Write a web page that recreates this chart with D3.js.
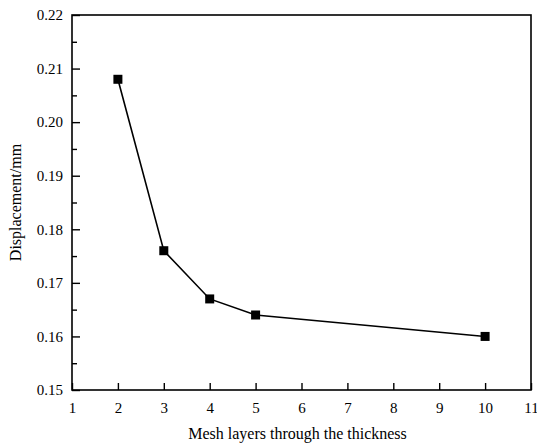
<!DOCTYPE html>
<html>
<head>
<meta charset="utf-8">
<script src="https://cdn.jsdelivr.net/npm/d3@7"></script>
<style>
  html, body { margin: 0; padding: 0; background: #fff; }
  svg { display: block; }
  text { font-family: "Liberation Serif", "Times New Roman", serif; fill: #000; }
</style>
</head>
<body>
<script>
// Mesh convergence study: displacement vs. number of mesh layers
const meshLayers = [2, 3, 4, 5, 10];
const displacement = [0.208, 0.176, 0.167, 0.164, 0.160];
const xTicks = [1, 2, 3, 4, 5, 6, 7, 8, 9, 10, 11];
const yTicks = [0.15, 0.16, 0.17, 0.18, 0.19, 0.20, 0.21, 0.22];
const yMinorTicks = [0.155, 0.165, 0.175, 0.185, 0.195, 0.205, 0.215];
const xTitle = "Mesh layers through the thickness";
const yTitle = "Displacement/mm";

const W = 537, H = 444;
const margin = { left: 72, right: 6, top: 15, bottom: 54 };

const svg = d3.select("body").append("svg").attr("width", W).attr("height", H);

const x = d3.scaleLinear().domain([1, 11]).range([margin.left, W - margin.right]);
const y = d3.scaleLinear().domain([0.15, 0.22]).range([H - margin.bottom, margin.top]);

// frame
svg.append("rect")
  .attr("x", x(1)).attr("y", y(0.22))
  .attr("width", x(11) - x(1)).attr("height", y(0.15) - y(0.22))
  .attr("fill", "none").attr("stroke", "#000").attr("stroke-width", 1.6);

// bottom axis, ticks pointing inward
const xAxis = svg.append("g")
  .attr("transform", `translate(0,${y(0.15)})`)
  .call(d3.axisBottom(x).tickValues(xTicks).tickFormat(d3.format("d"))
    .tickSizeInner(-7).tickSizeOuter(0).tickPadding(12));
xAxis.select(".domain").remove();
xAxis.selectAll("line").attr("stroke", "#000").attr("stroke-width", 1.4);
xAxis.selectAll("text").attr("font-size", 15).attr("font-family", "Liberation Serif");

// left axis, major and minor ticks pointing inward
const yAxis = svg.append("g")
  .attr("transform", `translate(${x(1)},0)`)
  .call(d3.axisLeft(y).tickValues(yTicks).tickFormat(d3.format(".2f"))
    .tickSizeInner(-8).tickSizeOuter(0).tickPadding(9));
yAxis.select(".domain").remove();
yAxis.selectAll("line").attr("stroke", "#000").attr("stroke-width", 1.4);
yAxis.selectAll("text").attr("font-size", 15).attr("font-family", "Liberation Serif");

const yMinor = svg.append("g")
  .attr("transform", `translate(${x(1)},0)`)
  .call(d3.axisLeft(y).tickValues(yMinorTicks).tickFormat("").tickSizeInner(-5).tickSizeOuter(0));
yMinor.select(".domain").remove();
yMinor.selectAll("line").attr("stroke", "#000").attr("stroke-width", 1.4);

// axis titles
svg.append("text")
  .attr("x", (x(1) + x(11)) / 2 - 4).attr("y", 439)
  .attr("text-anchor", "middle").attr("font-size", 16)
  .text(xTitle);

svg.append("text")
  .attr("transform", `translate(21,${(y(0.15) + y(0.22)) / 2}) rotate(-90)`)
  .attr("text-anchor", "middle").attr("font-size", 16)
  .text(yTitle);

// data line and square markers
const pts = meshLayers.map((m, i) => [m, displacement[i]]);
svg.append("path")
  .datum(pts)
  .attr("fill", "none").attr("stroke", "#000").attr("stroke-width", 1.6)
  .attr("d", d3.line().x(d => x(d[0])).y(d => y(d[1])));

const s = 9;
svg.selectAll("rect.marker").data(pts).enter().append("rect")
  .attr("class", "marker")
  .attr("x", d => x(d[0]) - s / 2).attr("y", d => y(d[1]) - s / 2)
  .attr("width", s).attr("height", s).attr("fill", "#000");
</script>
</body>
</html>
